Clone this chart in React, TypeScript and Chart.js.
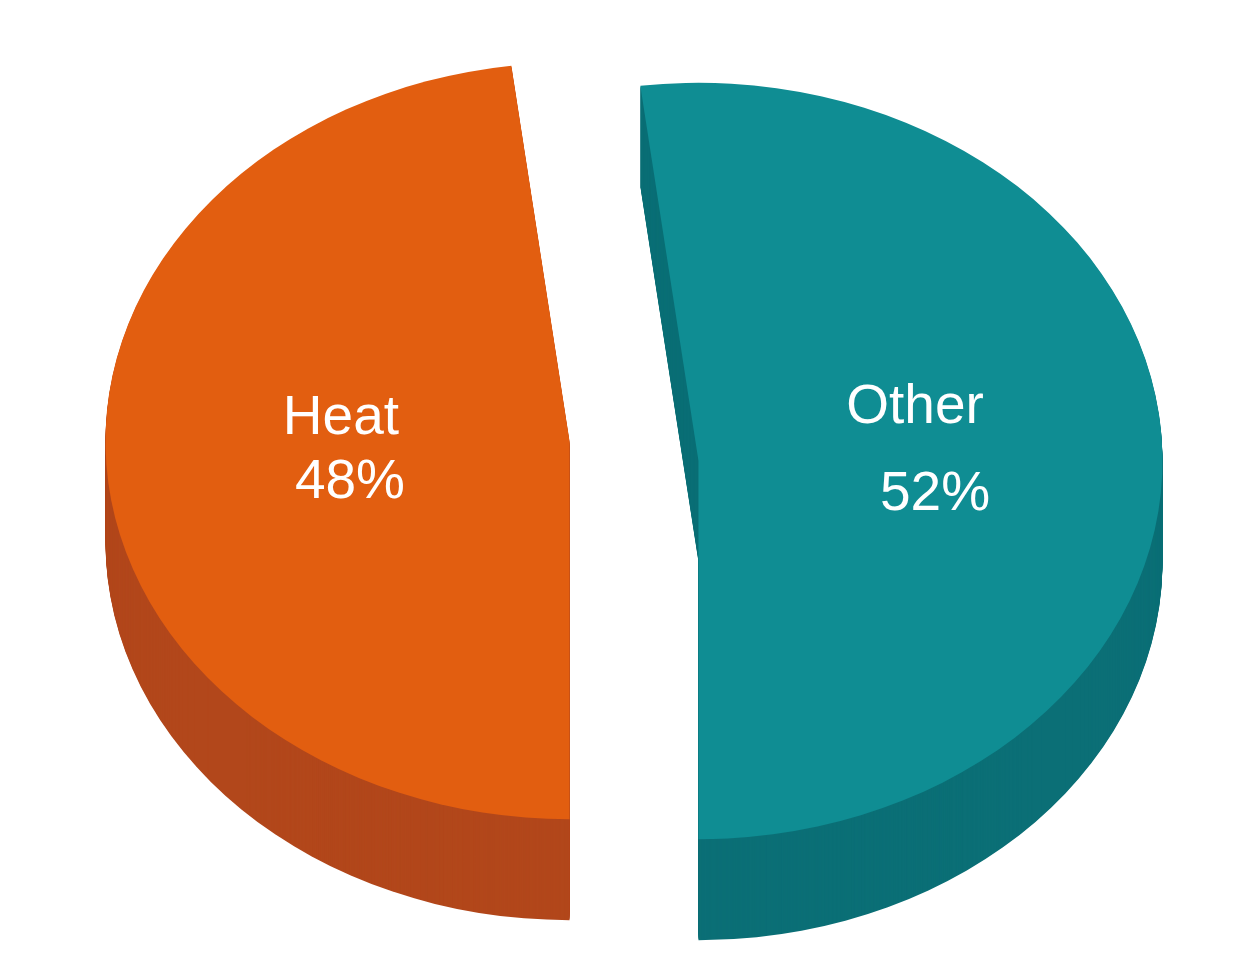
import { useEffect, useRef } from "react";
import { Chart, registerables } from "chart.js";

Chart.register(...registerables);

// ---- data ----
const categories = ["Heat", "Other"];
const shares = [48, 52];
const percentLabels = ["48%", "52%"];

// ---- styles ----
const faceColors = ["#E25E10", "#0F8D93"];
const sideColors = ["#B2471B", "#0B6F76"];
const TILT = 0.815; // vertical squash of the pie plane
const DEPTH = 101; // thickness of the 3D side, px
const CENTER_Y = 451; // screen y of the pie centre
const EXPLODE = [
  { dx: -64.5, dy: -10 },
  { dx: 64.5, dy: 10 },
];
const LABEL_LINES = [
  [
    { dx: 3, dy: -19 },
    { dx: 12, dy: 45 },
  ],
  [
    { dx: -15, dy: -26 },
    { dx: 5, dy: 61 },
  ],
];

const pie3d = {
  id: "pie3d",
  beforeDatasetDraw(chart: any, args: any) {
    const ctx = chart.ctx as CanvasRenderingContext2D;
    const els = args.meta.data as any[];
    const place = (i: number, el: any, extra: number) => {
      const e = EXPLODE[i];
      ctx.translate(e.dx, e.dy + extra + CENTER_Y);
      ctx.scale(1, TILT);
      ctx.translate(0, -el.y);
    };
    for (let k = DEPTH; k >= 1; k -= 1) {
      els.forEach((el, i) => {
        const p = el.getProps(["x", "y", "startAngle", "endAngle", "outerRadius"], true);
        ctx.save();
        place(i, el, k);
        ctx.beginPath();
        ctx.moveTo(p.x, p.y);
        ctx.arc(p.x, p.y, p.outerRadius, p.startAngle, p.endAngle);
        ctx.closePath();
        ctx.fillStyle = sideColors[i];
        ctx.fill();
        ctx.restore();
      });
    }
    els.forEach((el, i) => {
      ctx.save();
      place(i, el, 0);
      el.draw(ctx);
      ctx.restore();
    });
    return false;
  },
  afterDatasetsDraw(chart: any) {
    const ctx = chart.ctx as CanvasRenderingContext2D;
    const meta = chart.getDatasetMeta(0);
    ctx.save();
    ctx.fillStyle = "#FFFFFF";
    ctx.font = '55px "Liberation Sans", Arial, sans-serif';
    ctx.textAlign = "center";
    ctx.textBaseline = "alphabetic";
    meta.data.forEach((el: any, i: number) => {
      const pos = el.tooltipPosition(true);
      const x = pos.x + EXPLODE[i].dx;
      const y = CENTER_Y + (pos.y - el.y) * TILT + EXPLODE[i].dy;
      const lines = [categories[i], percentLabels[i]];
      lines.forEach((t, j) => {
        ctx.fillText(t, x + LABEL_LINES[i][j].dx, y + LABEL_LINES[i][j].dy);
      });
    });
    ctx.restore();
  },
};

export default function App() {
  const ref = useRef<HTMLCanvasElement | null>(null);
  useEffect(() => {
    document.body.style.margin = "0";
    document.body.style.background = "#FFFFFF";
    if (!ref.current) return;
    const chart = new Chart(ref.current, {
      type: "pie",
      data: {
        labels: categories,
        datasets: [
          {
            data: shares,
            backgroundColor: faceColors,
            borderWidth: 0,
            offset: 0,
            clip: false as any,
          },
        ],
      },
      options: {
        animation: false,
        responsive: true,
        maintainAspectRatio: false,
        rotation: 180,
        radius: 464,
        events: [],
        layout: { padding: { left: 28, right: 0, top: 0, bottom: 0 } },
        plugins: {
          legend: { display: false },
          tooltip: { enabled: false },
        },
      },
      plugins: [pie3d as any],
    });
    return () => chart.destroy();
  }, []);
  return (
    <div style={{ width: 1240, height: 965, position: "relative", background: "#FFFFFF" }}>
      <canvas ref={ref} />
    </div>
  );
}
